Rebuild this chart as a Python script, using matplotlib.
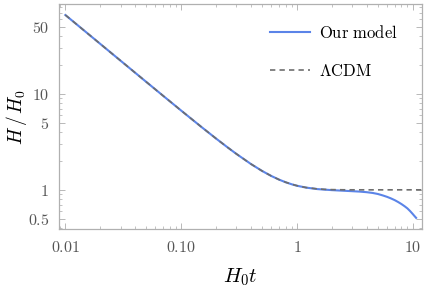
import matplotlib
matplotlib.use("Agg")
import matplotlib.pyplot as plt
from matplotlib.ticker import FixedLocator, FixedFormatter, LogLocator, NullFormatter

plt.rcParams['mathtext.fontset'] = 'cm'
plt.rcParams['font.family'] = ['DejaVu Serif']

# LCDM curve H/H0 vs H0 t
t_lcdm = [0.01, 0.02, 0.03, 0.05, 0.07, 0.1, 0.15, 0.2, 0.25, 0.3, 0.4, 0.5, 0.6, 0.7, 0.8, 0.9,
          1.0, 1.2, 1.5, 1.75, 2.0, 2.5, 3.0, 4.0, 5.0, 7.0, 10.0, 12.0]
h_lcdm = [66.67, 33.34, 22.24, 13.36, 9.559, 6.717, 4.519, 3.433, 2.791, 2.371, 1.862, 1.574, 1.396,
          1.279, 1.1995, 1.1441, 1.105, 1.0562, 1.0225, 1.0105, 1.005, 1.0011, 1.0003, 1.0, 1.0,
          1.0, 1.0, 1.0]

# our model, follows LCDM early, drops late
t_model = [0.01, 0.02, 0.03, 0.05, 0.07, 0.1, 0.15, 0.2, 0.25, 0.3, 0.4, 0.5, 0.6, 0.7, 0.8, 0.9,
           1.0, 1.2, 1.5, 1.75, 2.0, 2.5, 3.0, 3.5, 4.0, 4.5, 5.0, 5.5, 6.0, 6.5, 7.0, 7.5, 8.0,
           8.5, 9.0, 9.5, 10.0, 10.4, 10.7]
h_model = [66.67, 33.34, 22.24, 13.36, 9.559, 6.717, 4.519, 3.433, 2.791, 2.371, 1.862, 1.574, 1.396,
           1.279, 1.199, 1.143, 1.103, 1.055, 1.018, 1.004, 0.993, 0.979, 0.968, 0.958, 0.945,
           0.928, 0.905, 0.875, 0.845, 0.813, 0.78, 0.745, 0.71, 0.675, 0.64, 0.60, 0.56, 0.53, 0.51]

xticks = [0.01, 0.1, 1, 10]
xlabels = ['0.01', '0.10', '1', '10']
yticks = [0.5, 1, 5, 10, 50]
ylabels = ['0.5', '1', '5', '10', '50']

fig = plt.figure(figsize=(4.27, 2.94), dpi=100)
ax = fig.add_axes([0.138, 0.221, 0.85, 0.764])

ax.plot(t_model, h_model, color='#5b84e8', lw=1.5, label=r'$\mathrm{Our\ model}$')
ax.plot(t_lcdm, h_lcdm, color='#6e6e6e', lw=1.2, ls=(0, (3.2, 2.5)), label=r'$\Lambda\mathrm{CDM}$')

ax.set_xscale('log')
ax.set_yscale('log')
ax.set_xlim(0.0088, 12)
ax.set_ylim(0.39, 86)

ax.xaxis.set_major_locator(FixedLocator(xticks))
ax.xaxis.set_major_formatter(FixedFormatter(['$\\mathrm{%s}$' % s for s in xlabels]))
ax.yaxis.set_major_locator(FixedLocator(yticks))
ax.yaxis.set_major_formatter(FixedFormatter(['$\\mathrm{%s}$' % s for s in ylabels]))
ax.xaxis.set_minor_locator(LogLocator(base=10, subs=range(2, 10)))
ax.yaxis.set_minor_locator(LogLocator(base=10, subs=range(2, 10)))
ax.xaxis.set_minor_formatter(NullFormatter())
ax.yaxis.set_minor_formatter(NullFormatter())

for s in ax.spines.values():
    s.set_color('#b0b0b0')
    s.set_linewidth(0.9)
ax.tick_params(which='both', direction='in', top=True, right=True, color='#b8b8b8',
               labelcolor='#555555', labelsize=11.5)
ax.tick_params(which='major', length=4, width=0.7, pad=7)
ax.tick_params(which='minor', length=2.3, width=0.6)

ax.set_xlabel(r'$H_0 t$', fontsize=15, labelpad=8)
ax.set_ylabel(r'$H\,/\,H_0$', fontsize=14, va='center')
ax.yaxis.set_label_coords(-0.116, 0.5)

ax.legend(loc='upper right', bbox_to_anchor=(0.975, 0.975), frameon=False, fontsize=12,
          handlelength=2.4, handletextpad=0.55, labelspacing=1.25)

fig.savefig('out.png', dpi=100)
